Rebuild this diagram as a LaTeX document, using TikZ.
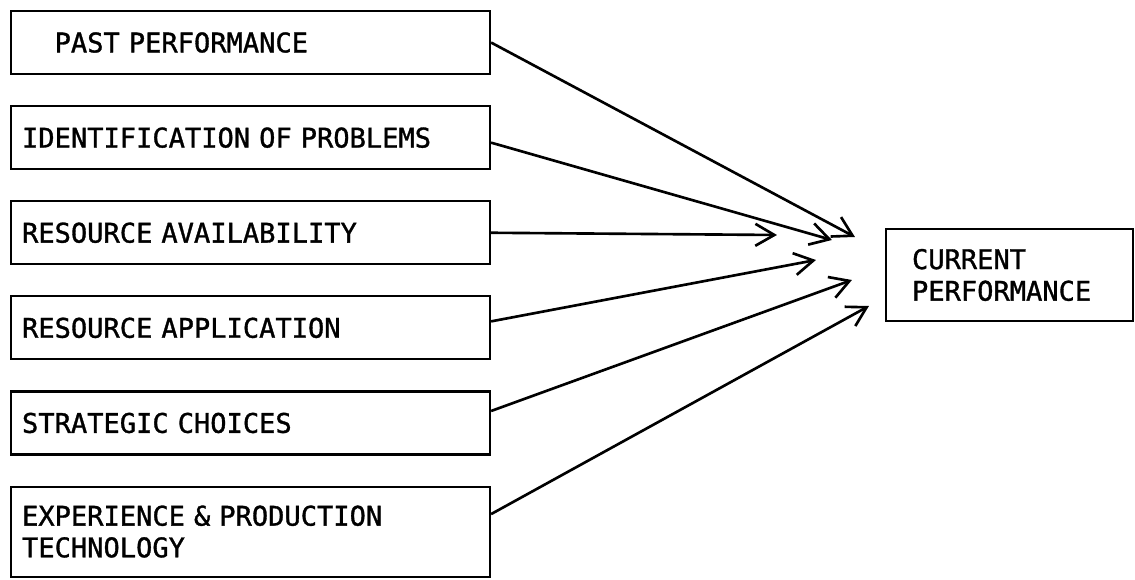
\documentclass[tikz,border=0pt]{standalone}
\usepackage{fontspec}
\newfontfamily\typefont[FakeBold=1.2]{DejaVu Sans Mono}
\usetikzlibrary{positioning,arrows.meta}

\begin{document}
\begin{tikzpicture}[
			factor/.style={rectangle, draw, line width=1.2pt, text width=9.14cm, inner xsep=0.22cm, minimum height=1.26cm, align=left, font=\typefont\fontsize{15.4}{18}\selectfont},
			result/.style={rectangle, draw, line width=1.2pt, text width=3.9cm, inner xsep=0.52cm, minimum height=1.84cm, align=left, font=\typefont\fontsize{15.4}{18}\selectfont},
			arrow/.style={-{Straight Barb[length=0.38cm, width=0.44cm]}, line width=1.5pt}
			]
			\useasboundingbox (0,0) rectangle (22.7,11.58);
			
			% Factors on the left, one under another
			\node[factor, anchor=north west] (past) at (0.2,11.38) {\phantom{XX}PAST PERFORMANCE};
			\node[factor, below=0.6cm of past] (ident) {IDENTIFICATION OF PROBLEMS};
			\node[factor, below=0.6cm of ident] (avail) {RESOURCE AVAILABILITY};
			\node[factor, below=0.6cm of avail] (appl) {RESOURCE APPLICATION};
			\node[factor, below=0.6cm of appl] (strat) {STRATEGIC CHOICES};
			\node[factor, below=0.6cm of strat, minimum height=1.8cm] (exper) {EXPERIENCE \& PRODUCTION\\TECHNOLOGY};
			
			% Outcome on the right
			\node[result] (curr) at (20.19,6.08) {CURRENT\\PERFORMANCE};
			
			% Arrow tips stop short of the outcome box
			\coordinate[above left=0.76cm and 0.6cm of curr.west] (t1);
			\coordinate[above left=0.7cm and 1.06cm of curr.west] (t2);
			\coordinate[above left=0.8cm and 2.16cm of curr.west] (t3);
			\coordinate[above left=0.3cm and 1.38cm of curr.west] (t4);
			\coordinate[below left=0.1cm and 0.66cm of curr.west] (t5);
			\coordinate[below left=0.62cm and 0.32cm of curr.west] (t6);
			
			% Arrows from each factor
			\draw[arrow] (past.east) -- (t1);
			\draw[arrow] ([yshift=-0.1cm]ident.east) -- (t2);
			\draw[arrow] (avail.east) -- (t3);
			\draw[arrow] ([yshift=0.13cm]appl.east) -- (t4);
			\draw[arrow] ([yshift=0.24cm]strat.east) -- (t5);
			\draw[arrow] ([yshift=0.35cm]exper.east) -- (t6);
			
\end{tikzpicture}
\end{document}
